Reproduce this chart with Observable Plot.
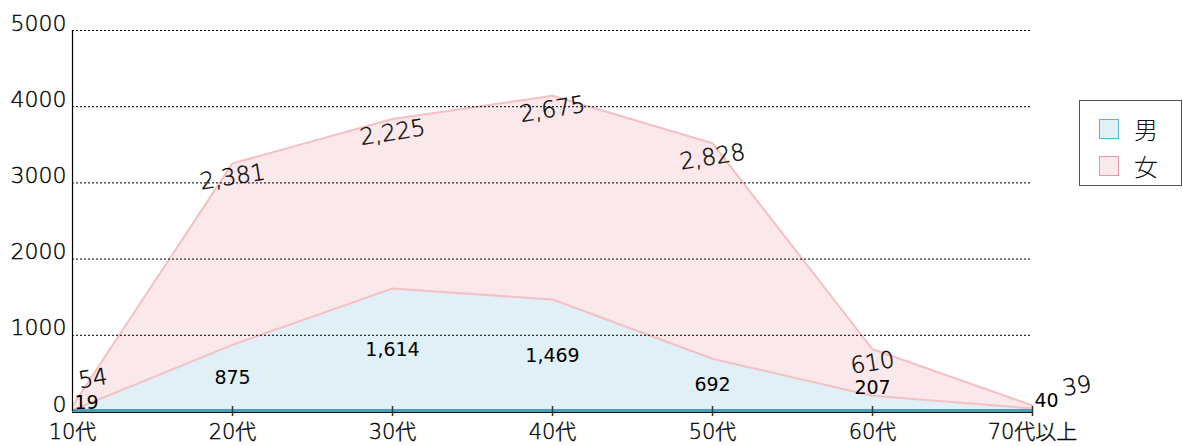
<!DOCTYPE html>
<html><head><meta charset="utf-8">
<script src="https://cdn.jsdelivr.net/npm/d3@7"></script>
<script src="https://cdn.jsdelivr.net/npm/@observablehq/plot@0.6"></script>
<style>
body{margin:0;background:#fff;font-family:"Noto Sans CJK JP","Noto Sans",sans-serif;}
#wrap{position:relative;width:1183px;height:446px;}
#legend{position:absolute;left:1079px;top:100px;width:101px;height:84px;border:1px solid #555;background:#fff;}
.item{position:absolute;left:19px;display:flex;align-items:center;font-size:24px;font-weight:300;color:#111;}
.sw{width:18px;height:18px;margin-right:15px;}
#chart svg text{stroke:#000;stroke-width:0.35px;}
#chart svg g.malelab text{stroke:none;}
</style></head>
<body><div id="wrap"><div id="chart"></div>
<div id="legend">
<div class="item" style="top:10px"><div class="sw" style="background:#e1eff6;border:1.5px solid #5ab4d0"></div>男</div>
<div class="item" style="top:47px"><div class="sw" style="background:#fbe8ea;border:1.5px solid #e899a6"></div>女</div>
</div></div>
<script>
const ages = ["10代","20代","30代","40代","50代","60代","70代以上"];
const male = [19,875,1614,1469,692,207,40];
const female = [54,2381,2225,2675,2828,610,39];
const yTicks = [0,1000,2000,3000,4000,5000];
const series = ["男","女"];

const rows = ages.flatMap((a,i)=>[{age:a,sex:series[0],value:male[i]},{age:a,sex:series[1],value:female[i]}]);
const fmt = d3.format(",");
const last = ages.length - 1;
const inner = ages.map((_,i)=>i).filter(i=>i>0 && i<last);
const ends = [0, last];

const maleY = i => male[i] < 500 ? male[i] + 100 : male[i]/2;
const femY = i => {const t = male[i] + female[i]; return t < 500 ? t + 300 : t - 180;};
const maleStyle = {fontSize:19, fill:"#000", fontWeight:500, className:"malelab", fontFamily:"'DejaVu Sans','Noto Sans',sans-serif"};
const femStyle = {fontSize:23, fill:"#000", fontWeight:200, rotate:-9, fontFamily:"'DejaVu Sans','Noto Sans',sans-serif"};

const chart = Plot.plot({
  width:1183, height:446,
  marginLeft:72, marginRight:151, marginTop:30, marginBottom:35,
  x:{type:"point", domain:ages, padding:0, label:null},
  y:{type:"linear", domain:[0,5000], label:null},
  color:{domain:series, range:["#e1eff6","#fbe8ea"]},
  style:{fontFamily:"'DejaVu Sans','Noto Sans CJK JP',sans-serif", color:"#000", background:"#fff"},
  marks:[
    Plot.areaY(rows, Plot.stackY({x:"age", y:"value", fill:"sex", order:series})),
    Plot.lineY(rows, Plot.stackY2({x:"age", y:"value", z:"sex", order:series, stroke:"#f4c0c4", strokeWidth:2})),
    Plot.ruleY(yTicks.slice(1), {stroke:"#000", strokeDasharray:"2,2", strokeWidth:1}),
    Plot.ruleY([0], {stroke:"#4a9fb8", strokeWidth:3, dy:-1}),
    Plot.ruleY([0], {stroke:"#111", strokeWidth:1.2, dy:1}),
    Plot.ruleX([ages[0]], {stroke:"#000", strokeWidth:1.2}),
    Plot.ruleX(ages.slice(1), {x:d=>d, y1:0, y2:0, stroke:"#333", strokeWidth:1.5, insetTop:-5, insetBottom:-5}),
    Plot.axisY({ticks:yTicks, tickSize:0, tickPadding:6, fontSize:22, fontWeight:200, fill:"#000", dy:-7, tickFormat:d=>String(d)}),
    Plot.axisX({tickSize:0, tickPadding:13, fontSize:21, fontWeight:200, fill:"#000"}),
    Plot.text(inner, {x:i=>ages[i], y:maleY, text:i=>fmt(male[i]), textAnchor:"middle", ...maleStyle}),
    Plot.text(ends, {x:i=>ages[i], y:maleY, text:i=>fmt(male[i]), textAnchor:"start", dx:2, ...maleStyle}),
    Plot.text(inner, {x:i=>ages[i], y:femY, text:i=>fmt(female[i]), textAnchor:"middle", ...femStyle}),
    Plot.text([0], {x:i=>ages[i], y:femY, text:i=>fmt(female[i]), textAnchor:"start", dx:6, dy:-2, ...femStyle}),
    Plot.text([last], {x:i=>ages[i], y:femY, text:i=>fmt(female[i]), textAnchor:"start", dx:30, dy:6, ...femStyle})
  ]
});
document.getElementById("chart").appendChild(chart);
</script></body></html>
